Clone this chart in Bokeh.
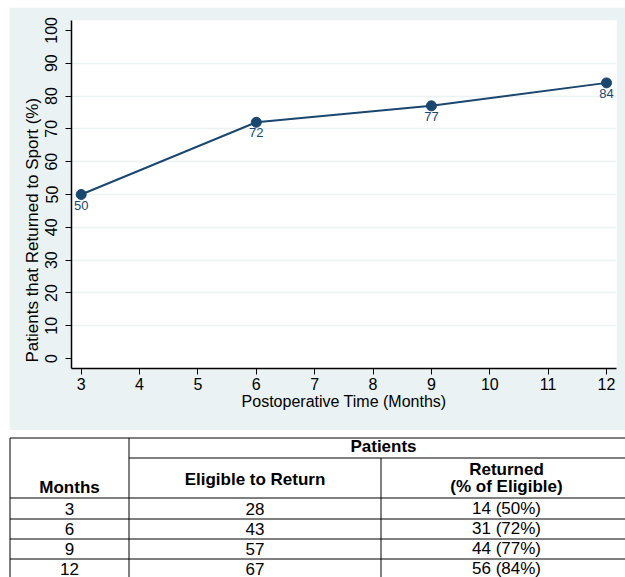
from bokeh.plotting import figure
from bokeh.models import Range1d, FixedTicker, Title
from bokeh.layouts import column
from bokeh.embed import file_html
from bokeh.resources import INLINE
from bokeh.core.properties import value

# ---- data ----
months = [3, 6, 9, 12]
returned_pct = [50, 72, 77, 84]
eligible = [28, 43, 57, 67]
returned_n = [14, 31, 44, 56]
x_ticks = [3, 4, 5, 6, 7, 8, 9, 10, 11, 12]
y_ticks = [0, 10, 20, 30, 40, 50, 60, 70, 80, 90, 100]
grid_ticks = [10, 20, 30, 40, 50, 60, 70, 80, 90]
x_title = "Postoperative Time (Months)"
y_title = "Patients that Returned to Sport (%)"
hdr_group = "Patients"
hdr_months = "Months"
hdr_eligible = "Eligible to Return"
hdr_returned = ["Returned", "(% of Eligible)"]

NAVY = "#1A476F"
BG = "#EAF2F3"
FONT = "Liberation Sans"

# ---- chart ----
p = figure(frame_width=545, frame_height=348,
           x_range=Range1d(2.834, 12.171), y_range=Range1d(-3.0, 103.0),
           output_backend="svg", toolbar_location=None,
           min_border_left=62, min_border_right=9, min_border_top=13, min_border_bottom=62)
p.margin = (7, 0, 0, 9)
p.frame_align = False
p.border_fill_color = BG
p.background_fill_color = "white"
p.outline_line_color = None
p.xgrid.visible = False
p.ygrid.ticker = FixedTicker(ticks=grid_ticks)
p.ygrid.grid_line_color = BG
p.ygrid.grid_line_width = 1.5

p.xaxis.ticker = FixedTicker(ticks=x_ticks)
p.yaxis.ticker = FixedTicker(ticks=y_ticks)
for ax in (p.xaxis, p.yaxis):
    ax.axis_line_color = "black"
    ax.axis_line_width = 1.5
    ax.major_tick_line_color = "black"
    ax.major_tick_line_width = 1
    ax.major_tick_out = 6
    ax.major_tick_in = 0
    ax.minor_tick_line_color = None
    ax.major_label_text_font = FONT
    ax.major_label_text_font_size = "16px"
    ax.major_label_text_color = "black"
p.yaxis.major_label_orientation = "vertical"
p.yaxis.major_label_standoff = 8
p.xaxis.major_label_standoff = 3
p.xaxis.axis_label = x_title
p.xaxis.axis_label_text_font = FONT
p.xaxis.axis_label_text_font_style = "normal"
p.xaxis.axis_label_text_font_size = "16px"
p.xaxis.axis_label_text_color = "black"
p.xaxis.axis_label_standoff = 0

# y-axis title, placed like the original (starts just above the bottom of the plot area)
p.add_layout(Title(text=y_title, align="left", offset=6, standoff=0,
                   vertical_align="middle", text_font=FONT, text_font_size="17px",
                   text_font_style="normal", text_color="black"), "left")

p.line(months, returned_pct, line_color=NAVY, line_width=2)
p.scatter(months, returned_pct, size=10, fill_color=NAVY, line_color=NAVY)
p.text(months, returned_pct, text=[str(v) for v in returned_pct],
       text_align="center", text_baseline="top", y_offset=6,
       text_font=value(FONT), text_font_size="13px", text_color=NAVY)

# ---- table ----
TW, TH = 625, 147
t = figure(width=TW, height=TH, x_range=Range1d(0, TW), y_range=Range1d(TH, 0),
           output_backend="svg", toolbar_location=None,
           x_axis_location=None, y_axis_location=None,
           min_border=0, min_border_left=0, min_border_right=0,
           min_border_top=0, min_border_bottom=0)
t.frame_align = False
t.outline_line_color = None
t.grid.visible = False
t.background_fill_color = "white"
t.border_fill_color = "white"

c0, c1, c2, c_end = 9.5, 128.5, 380.5, 631.5
r_top, r_grp, r_hdr = 7.5, 27.5, 67.5
row_lines = [88.5, 108.5, 128.5]
row_mid = [78, 98, 118, 138]

hx0 = [c0, c1, c0] + [c0] * len(row_lines)
hy = [r_top, r_grp, r_hdr] + row_lines
t.segment(x0=hx0, y0=hy, x1=[TW] * len(hy), y1=hy, line_color="black", line_width=1)
t.segment(x0=[c0, c1, c2], y0=[r_top, r_top, r_grp], x1=[c0, c1, c2], y1=[TH, TH, TH],
          line_color="black", line_width=1)

bold = dict(text_align="center", text_baseline="middle", text_font=value(FONT),
            text_font_size="17px", text_font_style="bold", text_color="black")
t.text(x=[383], y=[16], text=[hdr_group], **bold)
t.text(x=[(c0 + c1) / 2], y=[57], text=[hdr_months], **bold)
t.text(x=[(c1 + c2) / 2], y=[48.5], text=[hdr_eligible], **bold)
t.text(x=[(c2 + c_end) / 2] * 2, y=[39, 56], text=hdr_returned, **bold)

norm = dict(text_align="center", text_baseline="middle", text_font=value(FONT),
            text_font_size="17px", text_color="black")
n = len(months)
t.text(x=[(c0 + c1) / 2] * n, y=row_mid, text=[str(m) for m in months], **norm)
t.text(x=[(c1 + c2) / 2] * n, y=row_mid, text=[str(e) for e in eligible], **norm)
t.text(x=[(c2 + c_end) / 2] * n, y=row_mid,
       text=[f"{a} ({pc}%)" for a, pc in zip(returned_n, returned_pct)], **norm)

layout = column(p, t, spacing=0)
open("out.html", "w").write(file_html(layout, INLINE))
